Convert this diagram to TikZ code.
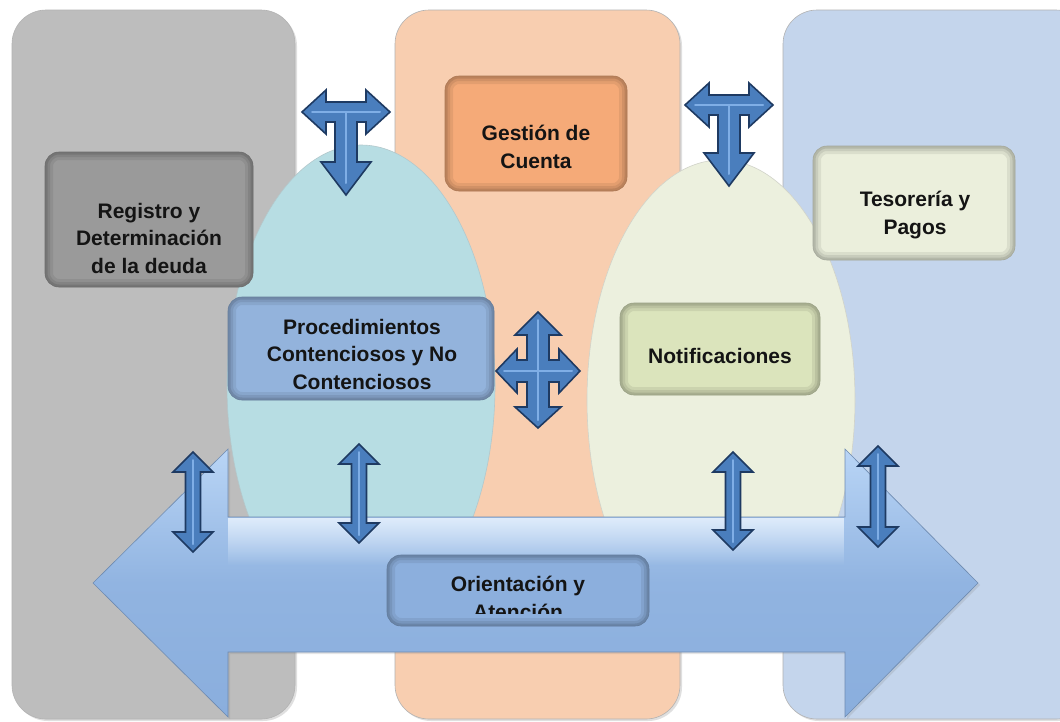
\documentclass[tikz,border=0pt]{standalone}
\usepackage{fontspec}
\setmainfont{Liberation Sans}
\usetikzlibrary{shadows,fadings}
\definecolor{cGray}{HTML}{BDBDBD}
\definecolor{cOrange}{HTML}{F8CEB0}
\definecolor{cBlue}{HTML}{C4D5EC}
\definecolor{cGrayBox}{HTML}{9A9A9A}
\definecolor{cOrangeBox}{HTML}{F5AA78}
\definecolor{cTesBox}{HTML}{EBEFDC}
\definecolor{cProcBox}{HTML}{93B3DC}
\definecolor{cNotBox}{HTML}{DBE4BC}
\definecolor{cOriBox}{HTML}{8CAFDD}
\definecolor{cEllL}{HTML}{B7DDE3}
\definecolor{cEllR}{HTML}{ECF0DE}
\definecolor{cBig}{HTML}{8AAEDD}
\definecolor{cBigTop}{HTML}{B9D5F6}
\definecolor{cArrFill}{HTML}{4A7EBD}
\definecolor{cArrLine}{HTML}{1E3A62}
\definecolor{cArrHi}{HTML}{7FAEE6}
\tikzset{
  col/.style={rounded corners=34pt, draw=black!30, line width=0.6pt,
    drop shadow={shadow xshift=2pt, shadow yshift=-2pt, opacity=.25}},
  box/.style={rounded corners=14pt, draw=#1!70!black, line width=0.6pt, fill=#1,
    path picture={
      \draw[line width=16pt, black, opacity=0.07, rounded corners=14pt]
        (path picture bounding box.south west) rectangle (path picture bounding box.north east);
      \draw[line width=10pt, black, opacity=0.08, rounded corners=14pt]
        (path picture bounding box.south west) rectangle (path picture bounding box.north east);
      \draw[line width=5pt, black, opacity=0.10, rounded corners=14pt]
        (path picture bounding box.south west) rectangle (path picture bounding box.north east);}},
  lbl/.style={font=\fontsize{21}{27.5}\selectfont\bfseries, align=center, text=black!92},
  bluearrow/.style={fill=cArrFill, draw=cArrLine, line width=1.6pt, line join=miter},
  hiline/.style={draw=cArrHi, line width=2pt, line cap=round},
}
\newcommand\vdarrow[3]{%
  \path[bluearrow] (#1,#2) -- ({#1+20},{#2+20}) -- ({#1+7.5},{#2+20}) -- ({#1+7.5},{#3-20})
   -- ({#1+20},{#3-20}) -- (#1,#3) -- ({#1-20},{#3-20}) -- ({#1-7.5},{#3-20})
   -- ({#1-7.5},{#2+20}) -- ({#1-20},{#2+20}) -- cycle;
  \path[hiline] (#1,{#2+8}) -- (#1,{#3-8});}
\newcommand\tarrow[3]{%
  \path[bluearrow] ({#1-44},#2) -- ({#1-20},{#2-22}) -- ({#1-20},{#2-10}) -- ({#1+20},{#2-10})
   -- ({#1+20},{#2-22}) -- ({#1+44},#2) -- ({#1+20},{#2+22}) -- ({#1+20},{#2+10})
   -- ({#1+11},{#2+10}) -- ({#1+11},{#3-33}) -- ({#1+25},{#3-33}) -- (#1,#3)
   -- ({#1-25},{#3-33}) -- ({#1-11},{#3-33}) -- ({#1-11},{#2+10}) -- ({#1-20},{#2+10})
   -- ({#1-20},{#2+22}) -- cycle;
  \path[hiline] ({#1-34},#2) -- ({#1+34},#2);
  \path[hiline] (#1,#2) -- (#1,{#3-12});}
\begin{document}
\begin{tikzpicture}[x=1pt,y=-1pt]
\clip (0,0) rectangle (1060,721);
\fill[white] (0,0) rectangle (1060,721);
% columns
\path[col, fill=cGray] (12,10) rectangle (295,719);
\path[col, fill=cOrange] (395,10) rectangle (680,719);
\path[col, fill=cBlue] (783,10) rectangle (1090,719);
% ellipses
\path[fill=cEllL, draw=cEllL!80!black!70, line width=0.6pt] (361,385) ellipse [x radius=134pt, y radius=240pt];
\path[fill=cEllR, draw=cEllR!80!black!70, line width=0.6pt] (721,400) ellipse [x radius=134pt, y radius=240pt];
% upper boxes
\node[box=cGrayBox, minimum width=208pt, minimum height=135pt] (registro) at (149,219.5) {};
\node[lbl] (registroT) at (149,238) {Registro y\\Determinación\\de la deuda};
\node[box=cOrangeBox, minimum width=182pt, minimum height=115pt] (gestion) at (536,133.5) {};
\node[lbl] (gestionT) at (536,147) {Gestión de\\Cuenta};
\node[box=cTesBox, minimum width=202pt, minimum height=114pt] (tesoreria) at (914,203) {};
\node[lbl] (tesoreriaT) at (915,215) {Tesorería y\\Pagos};
% T arrows
\tarrow{346}{112}{195}
\tarrow{729}{105}{186}
% middle boxes
\node[box=cProcBox, minimum width=266pt, minimum height=103pt] (proc) at (361,348.5) {};
\node[lbl] (procT) at (362,354) {Procedimientos\\Contenciosos y No\\Contenciosos};
\node[box=cNotBox, minimum width=200pt, minimum height=92pt] (notif) at (720,349) {};
\node[lbl] (notifT) at (720,356) {Notificaciones};
% four-way arrow
\path[bluearrow] (538,312) -- (561,335) -- (549,335) -- (549,360) -- (559,360) -- (559,349)
  -- (580,371) -- (559,393) -- (559,382) -- (549,382) -- (549,407) -- (561,407) -- (538,428)
  -- (515,407) -- (527,407) -- (527,382) -- (517,382) -- (517,393) -- (496,371) -- (517,349)
  -- (517,360) -- (527,360) -- (527,335) -- (515,335) -- cycle;
\path[hiline] (538,320) -- (538,420);
\path[hiline] (504,371) -- (572,371);
% big double arrow
\shade[top color=cBigTop, bottom color=cBig, middle color=cBig!85!cBigTop, draw=cBig!80!black, line width=0.6pt,
  drop shadow={shadow xshift=2pt, shadow yshift=-2pt, opacity=.2}]
  (93,583) -- (228,449) -- (228,517) -- (845,517) -- (845,449) -- (978,583)
  -- (845,717) -- (845,652) -- (228,652) -- (228,717) -- cycle;
\fill[white!55!cBigTop, path fading=south] (228.5,517.5) rectangle (844.5,565);
% small vertical arrows
\vdarrow{193}{452}{552}
\vdarrow{359}{444}{543}
\vdarrow{733}{452}{550}
\vdarrow{878}{446}{547}
% bottom box
\node[box=cOriBox, minimum width=262pt, minimum height=71pt] (orient) at (518,590.5) {};
\begin{scope}
\clip (387,555) rectangle (649,613);
\node[lbl] (orientT) at (518,598) {Orientación y\\Atención};
\end{scope}
\end{tikzpicture}
\end{document}
